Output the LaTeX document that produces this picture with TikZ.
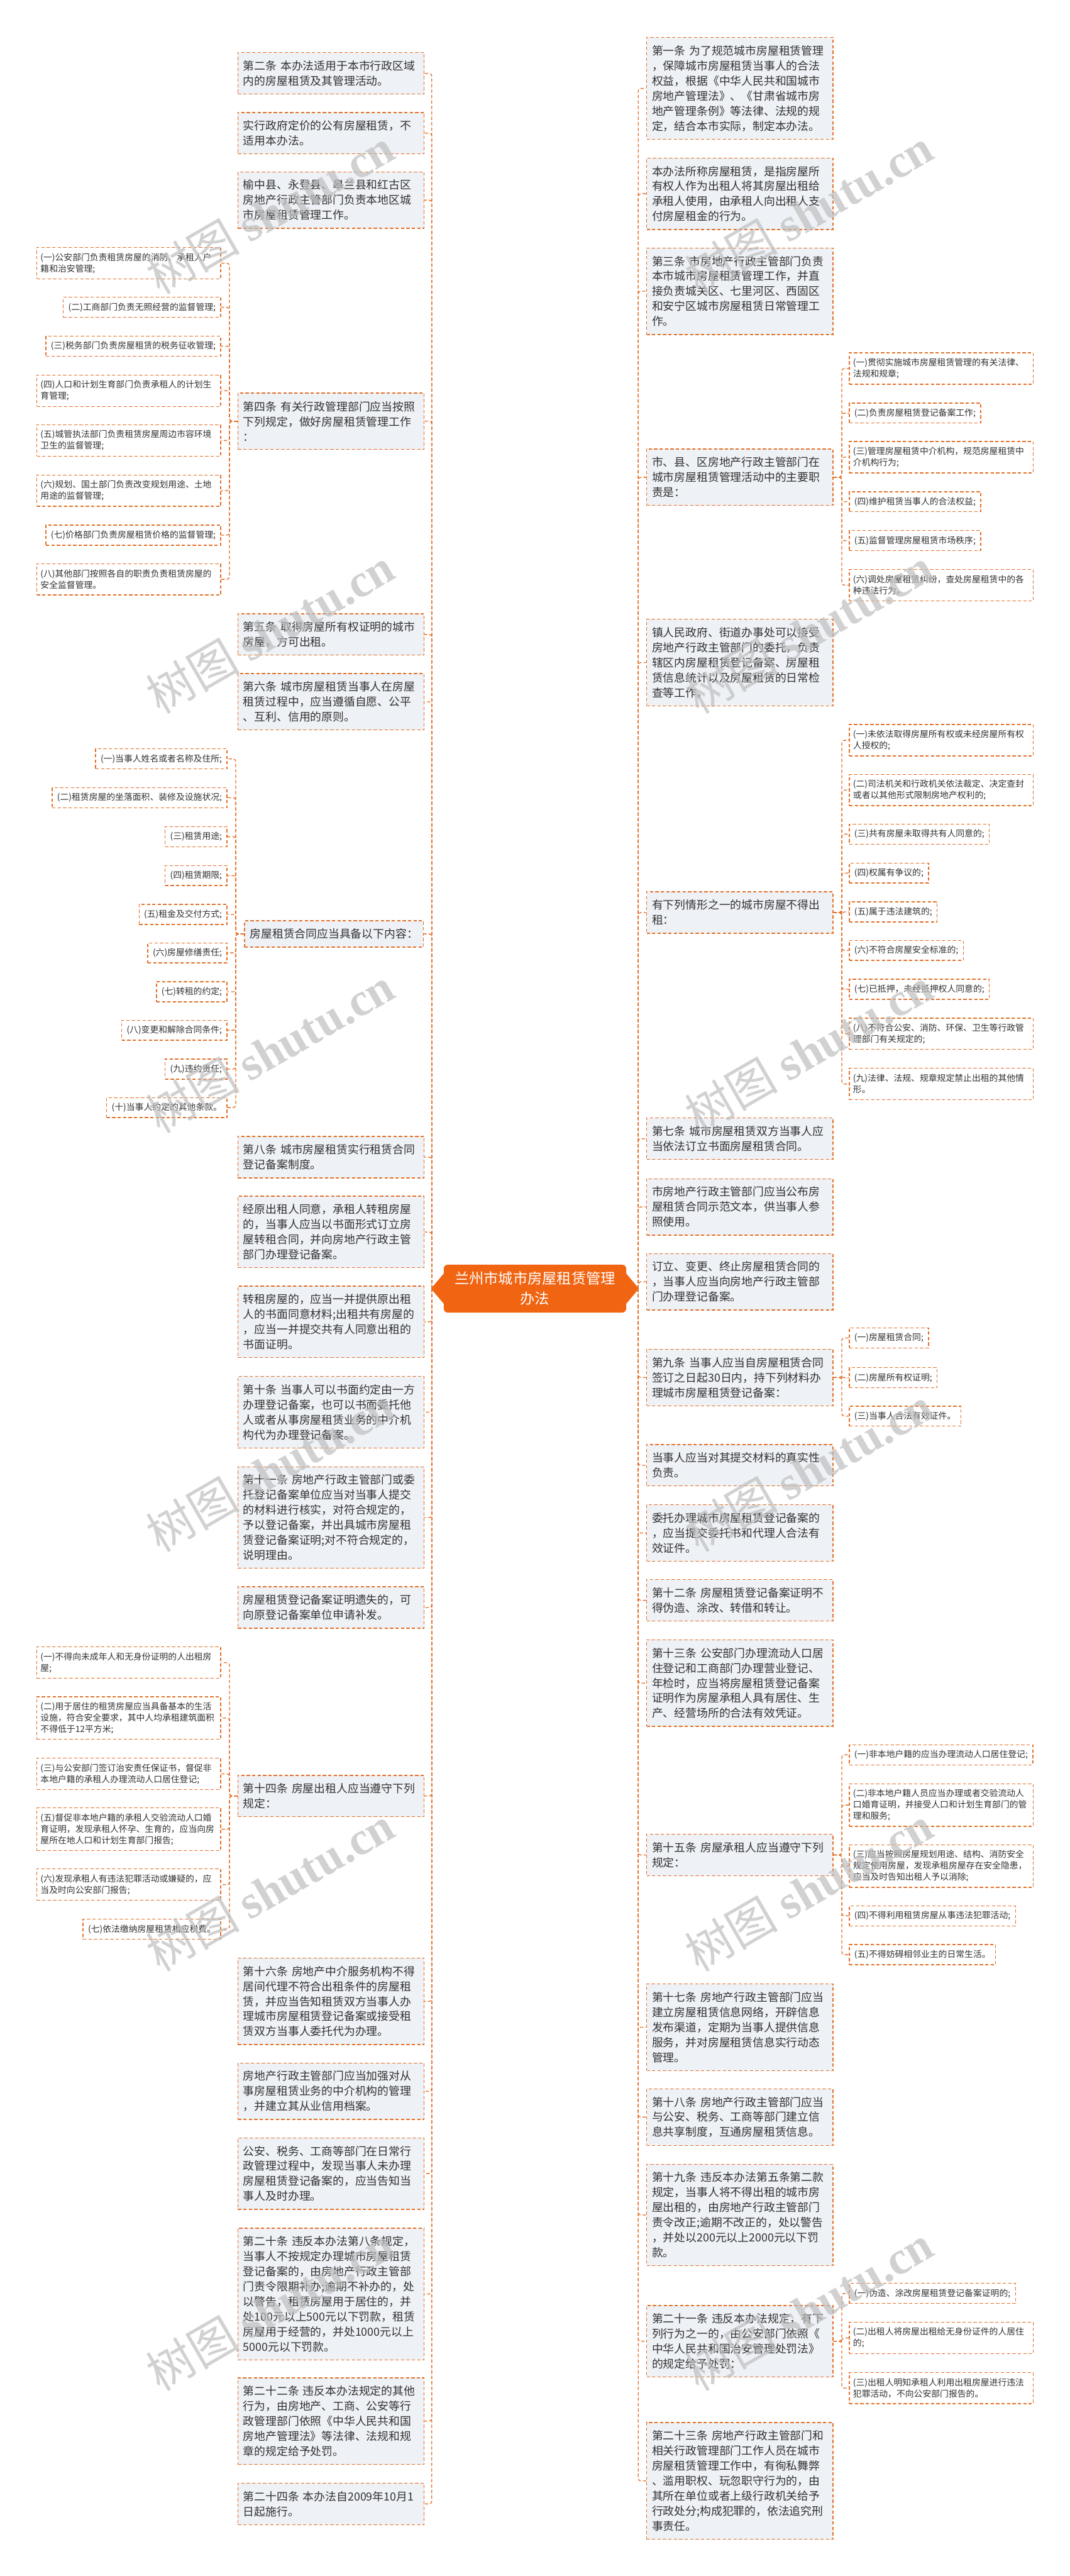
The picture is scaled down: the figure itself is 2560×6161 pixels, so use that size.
\documentclass[tikz,border=0pt]{standalone}
\usepackage{fontspec}
\setmainfont{Noto Sans CJK SC}
\newfontfamily\wmlatin{Liberation Serif}
\definecolor{bordc}{RGB}{228,112,40}
\definecolor{mainfill}{RGB}{238,241,245}
\definecolor{centc}{RGB}{240,100,18}
\definecolor{textc}{RGB}{50,50,50}
\definecolor{wmc}{RGB}{190,190,190}
\newcommand{\mainfs}{\fontsize{13.4}{18}\selectfont}
\newcommand{\leaffs}{\fontsize{10.4}{13.5}\selectfont}
\tikzset{
  base/.style={draw=bordc, line width=1pt, dash pattern=on 4pt off 2.5pt, text=textc},
  mb/.style={base, fill=mainfill, font=\mainfs, align=left, text width=210pt, inner xsep=6.5pt, inner ysep=2pt, minimum height={13.5pt+#1*18pt}},
  mbs/.style={base, fill=mainfill, font=\mainfs, inner xsep=6.5pt, inner ysep=2pt, minimum height=31.5pt},
  lf/.style={base, fill=white, font=\leaffs, align=left, text width=211pt, inner xsep=4.5pt, inner ysep=2pt, minimum height={10.5pt+#1*13.5pt}},
  lfs/.style={base, fill=white, font=\leaffs, inner xsep=6pt, inner ysep=2pt, minimum height=24pt},
  conn/.style={draw=bordc, line width=1pt, dash pattern=on 4pt off 2.5pt, rounded corners=3pt},
  wedge/.style={fill=centc},
  centerbox/.style={fill=centc, draw=centc, rounded corners=5pt, text=white, font=\fontsize{17.5}{24}\selectfont, align=center, minimum width=218pt, minimum height=57pt, inner sep=4pt},
  wm/.style={text=wmc, opacity=0.7, rotate=30, font=\fontsize{56}{60}\selectfont}
}
\begin{document}
\begin{tikzpicture}[x=0.5pt,y=-0.5pt]
\useasboundingbox (0,0) rectangle (2560,6161);
\fill[white] (0,0) rectangle (2560,6161);

% center
\coordinate (TL) at (1033,3082);
\coordinate (TR) at (1527,3082);
\node[centerbox] (C) at (1280,3082) {兰州市城市房屋租赁管理\\办法};
\fill[wedge] ([yshift=18pt]C.west) -- ([yshift=1pt]TL) -- ([yshift=-1pt]TL) -- ([yshift=-18pt]C.west) -- cycle;
\fill[wedge] ([yshift=18pt]C.east) -- ([yshift=1pt]TR) -- ([yshift=-1pt]TR) -- ([yshift=-18pt]C.east) -- cycle;

% ---------- LEFT main ----------
\node[mb=2, anchor=north west] (L1) at (568,125) {第二条 本办法适用于本市行政区域\\内的房屋租赁及其管理活动。};
\node[mb=2, anchor=north west] (L2) at (568,268) {实行政府定价的公有房屋租赁，不\\适用本办法。};
\node[mb=3, anchor=north west] (L3) at (568,410) {榆中县、永登县、皋兰县和红古区\\房地产行政主管部门负责本地区城\\市房屋租赁管理工作。};
\node[mb=3, anchor=north west] (L4) at (568,939) {第四条 有关行政管理部门应当按照\\下列规定，做好房屋租赁管理工作\\：};
\node[mb=2, anchor=north west] (L5) at (568,1467) {第五条 取得房屋所有权证明的城市\\房屋，方可出租。};
\node[mb=3, anchor=north west] (L6) at (568,1610) {第六条 城市房屋租赁当事人在房屋\\租赁过程中，应当遵循自愿、公平\\、互利、信用的原则。};
\node[mbs, anchor=north east] (L7) at (1014,2201) {房屋租赁合同应当具备以下内容：};
\node[mb=2, anchor=north west] (L8) at (568,2717) {第八条 城市房屋租赁实行租赁合同\\登记备案制度。};
\node[mb=4, anchor=north west] (L9) at (568,2860) {经原出租人同意，承租人转租房屋\\的，当事人应当以书面形式订立房\\屋转租合同，并向房地产行政主管\\部门办理登记备案。};
\node[mb=4, anchor=north west] (L10) at (568,3075) {转租房屋的，应当一并提供原出租\\人的书面同意材料;出租共有房屋的\\，应当一并提交共有人同意出租的\\书面证明。};
\node[mb=4, anchor=north west] (L11) at (568,3291) {第十条 当事人可以书面约定由一方\\办理登记备案，也可以书面委托他\\人或者从事房屋租赁业务的中介机\\构代为办理登记备案。};
\node[mb=6, anchor=north west] (L12) at (568,3507) {第十一条 房地产行政主管部门或委\\托登记备案单位应当对当事人提交\\的材料进行核实，对符合规定的，\\予以登记备案，并出具城市房屋租\\赁登记备案证明;对不符合规定的，\\说明理由。};
\node[mb=2, anchor=north west] (L13) at (568,3794) {房屋租赁登记备案证明遗失的，可\\向原登记备案单位申请补发。};
\node[mb=2, anchor=north west] (L14) at (568,4245) {第十四条 房屋出租人应当遵守下列\\规定：};
\node[mb=5, anchor=north west] (L15) at (568,4682) {第十六条 房地产中介服务机构不得\\居间代理不符合出租条件的房屋租\\赁，并应当告知租赁双方当事人办\\理城市房屋租赁登记备案或接受租\\赁双方当事人委托代为办理。};
\node[mb=3, anchor=north west] (L16) at (568,4933) {房地产行政主管部门应当加强对从\\事房屋租赁业务的中介机构的管理\\，并建立其从业信用档案。};
\node[mb=4, anchor=north west] (L17) at (568,5112) {公安、税务、工商等部门在日常行\\政管理过程中，发现当事人未办理\\房屋租赁登记备案的，应当告知当\\事人及时办理。};
\node[mb=8, anchor=north west] (L18) at (568,5328) {第二十条 违反本办法第八条规定，\\当事人不按规定办理城市房屋租赁\\登记备案的，由房地产行政主管部\\门责令限期补办;逾期不补办的，处\\以警告，租赁房屋用于居住的，并\\处100元以上500元以下罚款，租赁\\房屋用于经营的，并处1000元以上\\5000元以下罚款。};
\node[mb=5, anchor=north west] (L19) at (568,5686) {第二十二条 违反本办法规定的其他\\行为，由房地产、工商、公安等行\\政管理部门依照《中华人民共和国\\房地产管理法》等法律、法规和规\\章的规定给予处罚。};
\node[mb=2, anchor=north west] (L20) at (568,5938) {第二十四条 本办法自2009年10月1\\日起施行。};

\foreach \n in {L1,L2,L3,L4,L5,L6,L7,L8,L9,L10,L11,L12,L13,L14,L15,L16,L17,L18,L19,L20}
  \draw[conn] (TL) |- (\n.east);

% ---------- LEFT leaves: 第四条 ----------
\node[lf=2, anchor=north east] (L4a) at (529,591) {(一)公安部门负责租赁房屋的消防、承租人户\\籍和治安管理;};
\node[lfs, anchor=north east] (L4b) at (529,710) {(二)工商部门负责无照经营的监督管理;};
\node[lfs, anchor=north east] (L4c) at (529,803) {(三)税务部门负责房屋租赁的税务征收管理;};
\node[lf=2, anchor=north east] (L4d) at (529,896) {(四)人口和计划生育部门负责承租人的计划生\\育管理;};
\node[lf=2, anchor=north east] (L4e) at (529,1015) {(五)城管执法部门负责租赁房屋周边市容环境\\卫生的监督管理;};
\node[lf=2, anchor=north east] (L4f) at (529,1135) {(六)规划、国土部门负责改变规划用途、土地\\用途的监督管理;};
\node[lfs, anchor=north east] (L4g) at (529,1255) {(七)价格部门负责房屋租赁价格的监督管理;};
\node[lf=2, anchor=north east] (L4h) at (529,1347) {(八)其他部门按照各自的职责负责租赁房屋的\\安全监督管理。};
\foreach \n in {L4a,L4b,L4c,L4d,L4e,L4f,L4g,L4h}
  \draw[conn] (L4.west) -- ++(-19,0) |- (\n.east);

% ---------- LEFT leaves: 合同内容 ----------
\node[lfs, anchor=north east] (L7a) at (544,1790) {(一)当事人姓名或者名称及住所;};
\node[lfs, anchor=north east] (L7b) at (544,1883) {(二)租赁房屋的坐落面积、装修及设施状况;};
\node[lfs, anchor=north east] (L7c) at (544,1976) {(三)租赁用途;};
\node[lfs, anchor=north east] (L7d) at (544,2069) {(四)租赁期限;};
\node[lfs, anchor=north east] (L7e) at (544,2162) {(五)租金及交付方式;};
\node[lfs, anchor=north east] (L7f) at (544,2254) {(六)房屋修缮责任;};
\node[lfs, anchor=north east] (L7g) at (544,2347) {(七)转租的约定;};
\node[lfs, anchor=north east] (L7h) at (544,2439) {(八)变更和解除合同条件;};
\node[lfs, anchor=north east] (L7i) at (544,2532) {(九)违约责任;};
\node[lfs, anchor=north east] (L7j) at (544,2624) {(十)当事人约定的其他条款。};
\foreach \n in {L7a,L7b,L7c,L7d,L7e,L7f,L7g,L7h,L7i,L7j}
  \draw[conn] (L7.west) -- ++(-20,0) |- (\n.east);

% ---------- LEFT leaves: 第十四条 ----------
\node[lf=2, anchor=north east] (L14a) at (529,3938) {(一)不得向未成年人和无身份证明的人出租房\\屋;};
\node[lf=3, anchor=north east] (L14b) at (529,4057) {(二)用于居住的租赁房屋应当具备基本的生活\\设施，符合安全要求，其中人均承租建筑面积\\不得低于12平方米;};
\node[lf=2, anchor=north east] (L14c) at (529,4204) {(三)与公安部门签订治安责任保证书，督促非\\本地户籍的承租人办理流动人口居住登记;};
\node[lf=3, anchor=north east] (L14d) at (529,4323) {(五)督促非本地户籍的承租人交验流动人口婚\\育证明，发现承租人怀孕、生育的，应当向房\\屋所在地人口和计划生育部门报告;};
\node[lf=2, anchor=north east] (L14e) at (529,4469) {(六)发现承租人有违法犯罪活动或嫌疑的，应\\当及时向公安部门报告;};
\node[lfs, anchor=north east] (L14f) at (529,4589) {(七)依法缴纳房屋租赁相应税费。};
\foreach \n in {L14a,L14b,L14c,L14d,L14e,L14f}
  \draw[conn] (L14.west) -- ++(-19,0) |- (\n.east);

% ---------- RIGHT main ----------
\node[mb=6, anchor=north west] (R1) at (1546,89) {第一条 为了规范城市房屋租赁管理\\，保障城市房屋租赁当事人的合法\\权益，根据《中华人民共和国城市\\房地产管理法》、《甘肃省城市房\\地产管理条例》等法律、法规的规\\定，结合本市实际，制定本办法。};
\node[mb=4, anchor=north west] (R2) at (1546,377) {本办法所称房屋租赁，是指房屋所\\有权人作为出租人将其房屋出租给\\承租人使用，由承租人向出租人支\\付房屋租金的行为。};
\node[mb=5, anchor=north west] (R3) at (1546,592) {第三条 市房地产行政主管部门负责\\本市城市房屋租赁管理工作，并直\\接负责城关区、七里河区、西固区\\和安宁区城市房屋租赁日常管理工\\作。};
\node[mb=3, anchor=north west] (R4) at (1546,1073) {市、县、区房地产行政主管部门在\\城市房屋租赁管理活动中的主要职\\责是：};
\node[mb=5, anchor=north west] (R5) at (1546,1480) {镇人民政府、街道办事处可以接受\\房地产行政主管部门的委托，负责\\辖区内房屋租赁登记备案、房屋租\\赁信息统计以及房屋租赁的日常检\\查等工作。};
\node[mb=2, anchor=north west] (R6) at (1546,2132) {有下列情形之一的城市房屋不得出\\租：};
\node[mb=2, anchor=north west] (R7) at (1546,2673) {第七条 城市房屋租赁双方当事人应\\当依法订立书面房屋租赁合同。};
\node[mb=3, anchor=north west] (R8) at (1546,2818) {市房地产行政主管部门应当公布房\\屋租赁合同示范文本，供当事人参\\照使用。};
\node[mb=3, anchor=north west] (R9) at (1546,2997) {订立、变更、终止房屋租赁合同的\\，当事人应当向房地产行政主管部\\门办理登记备案。};
\node[mb=3, anchor=north west] (R10) at (1546,3226) {第九条 当事人应当自房屋租赁合同\\签订之日起30日内，持下列材料办\\理城市房屋租赁登记备案：};
\node[mb=2, anchor=north west] (R11) at (1546,3454) {当事人应当对其提交材料的真实性\\负责。};
\node[mb=3, anchor=north west] (R12) at (1546,3598) {委托办理城市房屋租赁登记备案的\\，应当提交委托书和代理人合法有\\效证件。};
\node[mb=2, anchor=north west] (R13) at (1546,3777) {第十二条 房屋租赁登记备案证明不\\得伪造、涂改、转借和转让。};
\node[mb=5, anchor=north west] (R14) at (1546,3921) {第十三条 公安部门办理流动人口居\\住登记和工商部门办理营业登记、\\年检时，应当将房屋租赁登记备案\\证明作为房屋承租人具有居住、生\\产、经营场所的合法有效凭证。};
\node[mb=2, anchor=north west] (R15) at (1546,4386) {第十五条 房屋承租人应当遵守下列\\规定：};
\node[mb=5, anchor=north west] (R16) at (1546,4744) {第十七条 房地产行政主管部门应当\\建立房屋租赁信息网络，开辟信息\\发布渠道，定期为当事人提供信息\\服务，并对房屋租赁信息实行动态\\管理。};
\node[mb=3, anchor=north west] (R17) at (1546,4995) {第十八条 房地产行政主管部门应当\\与公安、税务、工商等部门建立信\\息共享制度，互通房屋租赁信息。};
\node[mb=6, anchor=north west] (R18) at (1546,5175) {第十九条 违反本办法第五条第二款\\规定，当事人将不得出租的城市房\\屋出租的，由房地产行政主管部门\\责令改正;逾期不改正的，处以警告\\，并处以200元以上2000元以下罚\\款。};
\node[mb=4, anchor=north west] (R19) at (1546,5513) {第二十一条 违反本办法规定，有下\\列行为之一的，由公安部门依照《\\中华人民共和国治安管理处罚法》\\的规定给予处罚：};
\node[mb=7, anchor=north west] (R20) at (1546,5793) {第二十三条 房地产行政主管部门和\\相关行政管理部门工作人员在城市\\房屋租赁管理工作中，有徇私舞弊\\、滥用职权、玩忽职守行为的，由\\其所在单位或者上级行政机关给予\\行政处分;构成犯罪的，依法追究刑\\事责任。};

\foreach \n in {R1,R2,R3,R4,R5,R6,R7,R8,R9,R10,R11,R12,R13,R14,R15,R16,R17,R18,R19,R20}
  \draw[conn] (TR) |- (\n.west);

% ---------- RIGHT leaves ----------
\node[lf=2, anchor=north west] (R4a) at (2031,843) {(一)贯彻实施城市房屋租赁管理的有关法律、\\法规和规章;};
\node[lfs, anchor=north west] (R4b) at (2031,963) {(二)负责房屋租赁登记备案工作;};
\node[lf=2, anchor=north west] (R4c) at (2031,1055) {(三)管理房屋租赁中介机构，规范房屋租赁中\\介机构行为;};
\node[lfs, anchor=north west] (R4d) at (2031,1175) {(四)维护租赁当事人的合法权益;};
\node[lfs, anchor=north west] (R4e) at (2031,1268) {(五)监督管理房屋租赁市场秩序;};
\node[lf=2, anchor=north west] (R4f) at (2031,1361) {(六)调处房屋租赁纠纷，查处房屋租赁中的各\\种违法行为。};
\foreach \n in {R4a,R4b,R4c,R4d,R4e,R4f}
  \draw[conn] (R4.east) -- ++(20,0) |- (\n.west);

\node[lf=2, anchor=north west] (R6a) at (2031,1732) {(一)未依法取得房屋所有权或未经房屋所有权\\人授权的;};
\node[lf=2, anchor=north west] (R6b) at (2031,1851) {(二)司法机关和行政机关依法裁定、决定查封\\或者以其他形式限制房地产权利的;};
\node[lfs, anchor=north west] (R6c) at (2031,1970) {(三)共有房屋未取得共有人同意的;};
\node[lfs, anchor=north west] (R6d) at (2031,2063) {(四)权属有争议的;};
\node[lfs, anchor=north west] (R6e) at (2031,2156) {(五)属于违法建筑的;};
\node[lfs, anchor=north west] (R6f) at (2031,2248) {(六)不符合房屋安全标准的;};
\node[lfs, anchor=north west] (R6g) at (2031,2341) {(七)已抵押，未经抵押权人同意的;};
\node[lf=2, anchor=north west] (R6h) at (2031,2434) {(八)不符合公安、消防、环保、卫生等行政管\\理部门有关规定的;};
\node[lf=2, anchor=north west] (R6i) at (2031,2554) {(九)法律、法规、规章规定禁止出租的其他情\\形。};
\foreach \n in {R6a,R6b,R6c,R6d,R6e,R6f,R6g,R6h,R6i}
  \draw[conn] (R6.east) -- ++(20,0) |- (\n.west);

\node[lfs, anchor=north west] (R10a) at (2031,3175) {(一)房屋租赁合同;};
\node[lfs, anchor=north west] (R10b) at (2031,3270) {(二)房屋所有权证明;};
\node[lfs, anchor=north west] (R10c) at (2031,3362) {(三)当事人合法有效证件。};
\foreach \n in {R10a,R10b,R10c}
  \draw[conn] (R10.east) -- ++(20,0) |- (\n.west);

\node[lfs, anchor=north west] (R15a) at (2031,4172) {(一)非本地户籍的应当办理流动人口居住登记;};
\node[lf=3, anchor=north west] (R15b) at (2031,4265) {(二)非本地户籍人员应当办理或者交验流动人\\口婚育证明，并接受人口和计划生育部门的管\\理和服务;};
\node[lf=3, anchor=north west] (R15c) at (2031,4411) {(三)应当按照房屋规划用途、结构、消防安全\\规定使用房屋，发现承租房屋存在安全隐患，\\应当及时告知出租人予以消除;};
\node[lfs, anchor=north west] (R15d) at (2031,4557) {(四)不得利用租赁房屋从事违法犯罪活动;};
\node[lfs, anchor=north west] (R15e) at (2031,4650) {(五)不得妨碍相邻业主的日常生活。};
\foreach \n in {R15a,R15b,R15c,R15d,R15e}
  \draw[conn] (R15.east) -- ++(20,0) |- (\n.west);

\node[lfs, anchor=north west] (R19a) at (2031,5460) {(一)伪造、涂改房屋租赁登记备案证明的;};
\node[lf=2, anchor=north west] (R19b) at (2031,5553) {(二)出租人将房屋出租给无身份证件的人居住\\的;};
\node[lf=2, anchor=north west] (R19c) at (2031,5673) {(三)出租人明知承租人利用出租房屋进行违法\\犯罪活动，不向公安部门报告的。};
\foreach \n in {R19a,R19b,R19c}
  \draw[conn] (R19.east) -- ++(20,0) |- (\n.west);

% ---------- watermarks ----------
\foreach \yy in {505,1508,2511,3514,4517,5520} {
  \node[wm] at (646,\yy) {树图 {\wmlatin\bfseries shutu.cn}};
  \node[wm] at (1935,\yy) {树图 {\wmlatin\bfseries shutu.cn}};
}
\end{tikzpicture}
\end{document}
